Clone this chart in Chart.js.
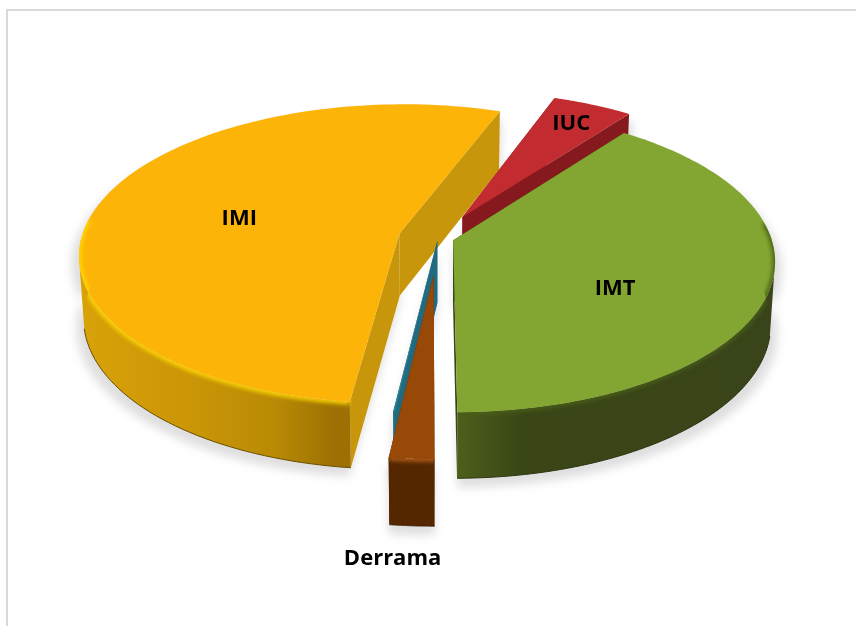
<!DOCTYPE html>
<html><head><meta charset="utf-8">
<style>html,body{margin:0;padding:0;background:#fff}body{overflow:hidden;width:856px;height:626px}#wrap{position:absolute;left:6px;top:9px;width:850px;height:617px;border-left:2px solid #d9d9d9;border-top:2px solid #d9d9d9;box-sizing:border-box}canvas{position:absolute;left:0;top:0}</style>
<script src="https://cdn.jsdelivr.net/npm/chart.js@4/dist/chart.umd.min.js"></script>
</head><body><div id="wrap"></div><canvas id="c" width="856" height="626"></canvas>
<script>
// data, clockwise from the rotation angle
const categories = ['IUC','IMT','Derrama','','IMI'];
const values = [4.67,39.7,1.92,0.06,53.65];
const rotationDeg = 20;
const explode = [46,14,68,5,35];
const topColors = ['#C22B2F','#83A632','#984807','#31859C','#FDB408'];
// style
const faceColors = ['#86191D','#3A4616','#572700','#216A80','#C8960A'];
const bevelColors = [null,'#4A5F17','#B5601A',null,'#FFD800'];
const wallStops = [
  [[0,'#86191D'],[1,'#86191D']],
  [[0,'#4D5F1C'],[0.2,'#3A4616'],[1,'#39441A']],
  [[0,'#552700'],[1,'#552700']],
  [[0,'#216A80'],[1,'#216A80']],
  [[0,'#D8A208'],[0.45,'#C99507'],[0.72,'#B98A05'],[0.95,'#9C7003'],[1,'#9C7003']]
];
const bottomEdge = ['#5a0f10','#2b3410','#3d1c00','#154a5a','#6a4d00'];
const labelNudge = [[40,-34],[7,25],[-19,100],[0,0],[-9,2]];
const drawOrder = [4,0,1,3,2];
const VIEW = {cx:438,cy:238,A:318,B:148,k:0.135,D:62,kd:0.06,base:0.987,frontLimit:0.2};

function project(u,v,z){
  const s = 1/(1-VIEW.k*v);
  const dz = z ? VIEW.D/(1-VIEW.kd*v) : 0;
  const f = z ? VIEW.base : 1;
  return [VIEW.cx+VIEW.A*u*s*f, VIEW.cy+VIEW.B*v*s+dz];
}
function sliceGeom(el){
  const mid=(el.startAngle+el.endAngle)/2, m=el.options.offset/el.outerRadius;
  return {a0:el.startAngle,a1:el.endAngle,ox:Math.cos(mid)*m,oy:Math.sin(mid)*m,mid};
}
function rim(g,z,n=120,front=false){
  const p=[];
  for(let i=0;i<=n;i++){
    const a=g.a0+(g.a1-g.a0)*i/n;
    if(front && Math.sin(a)<VIEW.frontLimit) continue;
    p.push(project(g.ox+Math.cos(a),g.oy+Math.sin(a),z));
  }
  return p;
}
function poly(ctx,pts){ctx.beginPath();pts.forEach((p,i)=>i?ctx.lineTo(p[0],p[1]):ctx.moveTo(p[0],p[1]));ctx.closePath();}
function line(ctx,pts){ctx.beginPath();pts.forEach((p,i)=>i?ctx.lineTo(p[0],p[1]):ctx.moveTo(p[0],p[1]));}
const pie3d = {
  id:'pie3d',
  beforeDatasetsDraw(chart){
    const ctx=chart.ctx, arcs=chart.getDatasetMeta(0).data;
    const geoms=arcs.map(sliceGeom);
    // soft shadow
    ctx.save();
    ctx.filter='blur(5px)';
    ctx.fillStyle='rgba(0,0,0,0.13)';
    geoms.forEach(g=>{
      const top=rim(g,false), bot=rim(g,true), a=project(g.ox,g.oy,false), b=project(g.ox,g.oy,true);
      const sh=[a,...top,...bot.slice().reverse(),b].map(p=>[p[0]+(p[0]-VIEW.cx)*0.02,p[1]+9]);
      poly(ctx,sh);ctx.fill();
    });
    ctx.restore();
    drawOrder.forEach(i=>{
      const g=geoms[i], top=rim(g,false), bot=rim(g,true);
      const a=project(g.ox,g.oy,false), b=project(g.ox,g.oy,true);
      // cut faces
      ctx.fillStyle=faceColors[i];
      poly(ctx,[a,top[0],bot[0],b]);ctx.fill();
      poly(ctx,[a,top[top.length-1],bot[bot.length-1],b]);ctx.fill();
      // outer wall: only the part of the rim that faces the viewer
      const ft=rim(g,false,120,true), fb=rim(g,true,120,true);
      if(ft.length>1){
        const xs=ft.map(p=>p[0]), x0=Math.min(...xs), x1=Math.max(...xs);
        const gr=ctx.createLinearGradient(x0,0,x1,0);
        wallStops[i].forEach(s=>gr.addColorStop(s[0],s[1]));
        ctx.fillStyle=gr;
        poly(ctx,[...ft,...fb.slice().reverse()]);ctx.fill();
        ctx.strokeStyle=bottomEdge[i];ctx.lineWidth=1;
        line(ctx,fb);ctx.stroke();
      }
      // top surface
      ctx.fillStyle=topColors[i];
      poly(ctx,[a,...top]);ctx.fill();
      // bevel along the front of the rim
      if(bevelColors[i]){
        ctx.save();
        poly(ctx,[a,...top,...bot.slice().reverse(),b]);ctx.clip();
        ctx.filter='blur(2px)';
        ctx.strokeStyle=bevelColors[i];ctx.lineWidth=5;
        const n=top.length-1;
        const seg=[];
        for(let j=0;j<=n;j++){
          const t=g.a0+(g.a1-g.a0)*j/n;
          if(Math.sin(t)>-0.12) seg.push(top[j]);
        }
        line(ctx,seg);ctx.stroke();
        ctx.restore();
      }
    });
    // labels
    ctx.fillStyle='#000';ctx.font='bold 22px "Open Sans", sans-serif';ctx.textAlign='center';ctx.textBaseline='middle';
    geoms.forEach((g,i)=>{
      if(!categories[i])return;
      const r=i===2?1:0.5;
      const p=project(g.ox+Math.cos(g.mid)*r,g.oy+Math.sin(g.mid)*r,false);
      ctx.fillText(categories[i],p[0]+labelNudge[i][0],p[1]+labelNudge[i][1]);
    });
    return false;
  }
};
new Chart(document.getElementById('c'),{
  type:'pie',
  data:{labels:categories,datasets:[{data:values,backgroundColor:topColors,offset:explode,borderWidth:0}]},
  options:{responsive:false,animation:false,rotation:rotationDeg,
    plugins:{legend:{display:false},tooltip:{enabled:false}}},
  plugins:[pie3d]
});
</script></body></html>
